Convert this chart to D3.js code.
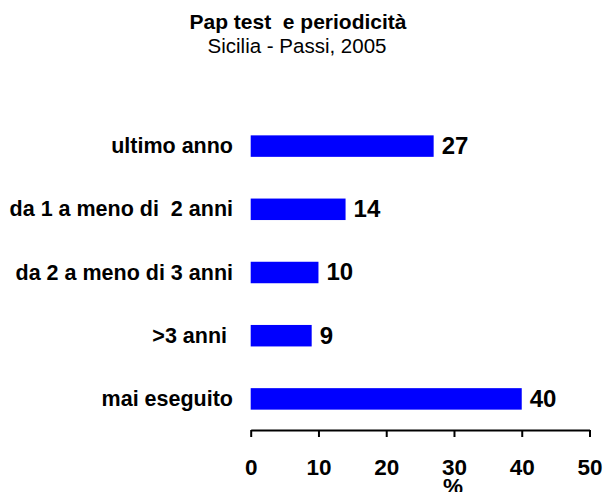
<!DOCTYPE html>
<html>
<head>
<meta charset="utf-8">
<script src="https://cdn.jsdelivr.net/npm/d3@7"></script>
<style>
  body { margin: 0; background: #fff; }
  svg { font-family: "Liberation Sans", Arial, sans-serif; }
  text { white-space: pre; }
</style>
</head>
<body>
<div id="chart"></div>
<script>
const categories = ["ultimo anno", "da 1 a meno di  2 anni", "da 2 a meno di 3 anni", ">3 anni ", "mai eseguito"];
const values = [27, 14, 10, 9, 40];
const tickValues = [0, 10, 20, 30, 40, 50];

const data = categories.map((c, i) => ({cat: c, val: values[i]}));

const svgWidth = 603;
const svgHeight = 492;

const svg = d3.select("#chart")
    .append("svg")
    .attr("width", svgWidth)
    .attr("height", svgHeight);

const xScale = d3.scaleLinear()
    .domain([0, 50])
    .range([250.7, 589.5]);

const yScale = d3.scaleBand()
    .domain(categories)
    .range([114.5, 430.5])
    .paddingInner(0.66)
    .paddingOuter(0.33);

// title
svg.append("text")
    .attr("x", 298)
    .attr("y", 29)
    .attr("text-anchor", "middle")
    .attr("font-size", 21)
    .attr("font-weight", "bold")
    .text("Pap test  e periodicità");

svg.append("text")
    .attr("x", 297)
    .attr("y", 53)
    .attr("text-anchor", "middle")
    .attr("font-size", 20.5)
    .text("Sicilia - Passi, 2005");

// bars
svg.selectAll(".bar")
    .data(data)
    .enter()
    .append("rect")
    .attr("class", "bar")
    .attr("x", xScale(0))
    .attr("y", d => yScale(d.cat))
    .attr("width", d => xScale(d.val) - xScale(0))
    .attr("height", yScale.bandwidth())
    .style("fill", "#0000ff");

// value labels
svg.selectAll(".valLabel")
    .data(data)
    .enter()
    .append("text")
    .attr("class", "valLabel")
    .attr("x", d => xScale(d.val) + 8)
    .attr("y", d => yScale(d.cat) + yScale.bandwidth() / 2)
    .attr("dy", "0.33em")
    .attr("font-size", 24)
    .attr("font-weight", "bold")
    .text(d => d.val);

// category labels
svg.selectAll(".catLabel")
    .data(data)
    .enter()
    .append("text")
    .attr("class", "catLabel")
    .attr("x", 233)
    .attr("y", d => yScale(d.cat) + yScale.bandwidth() / 2)
    .attr("dy", "0.33em")
    .attr("text-anchor", "end")
    .attr("font-size", 21.5)
    .attr("font-weight", "bold")
    .text(d => d.cat);

// x axis
const xAxis = d3.axisBottom(xScale)
    .tickValues(tickValues)
    .tickSize(7)
    .tickPadding(22)
    .tickSizeOuter(0);

const axisG = svg.append("g")
    .attr("transform", "translate(0, 430)")
    .call(xAxis);

axisG.select(".domain").attr("stroke", "#000").attr("stroke-width", 2);
axisG.selectAll(".tick line").attr("stroke", "#000").attr("stroke-width", 2);
axisG.selectAll(".tick text")
    .attr("font-family", "Liberation Sans, Arial, sans-serif")
    .attr("font-size", 22.5)
    .attr("font-weight", "bold")
    .attr("fill", "#000");

svg.append("text")
    .attr("x", 453)
    .attr("y", 494)
    .attr("text-anchor", "middle")
    .attr("font-size", 22.5)
    .attr("font-weight", "bold")
    .text("%");
</script>
</body>
</html>
